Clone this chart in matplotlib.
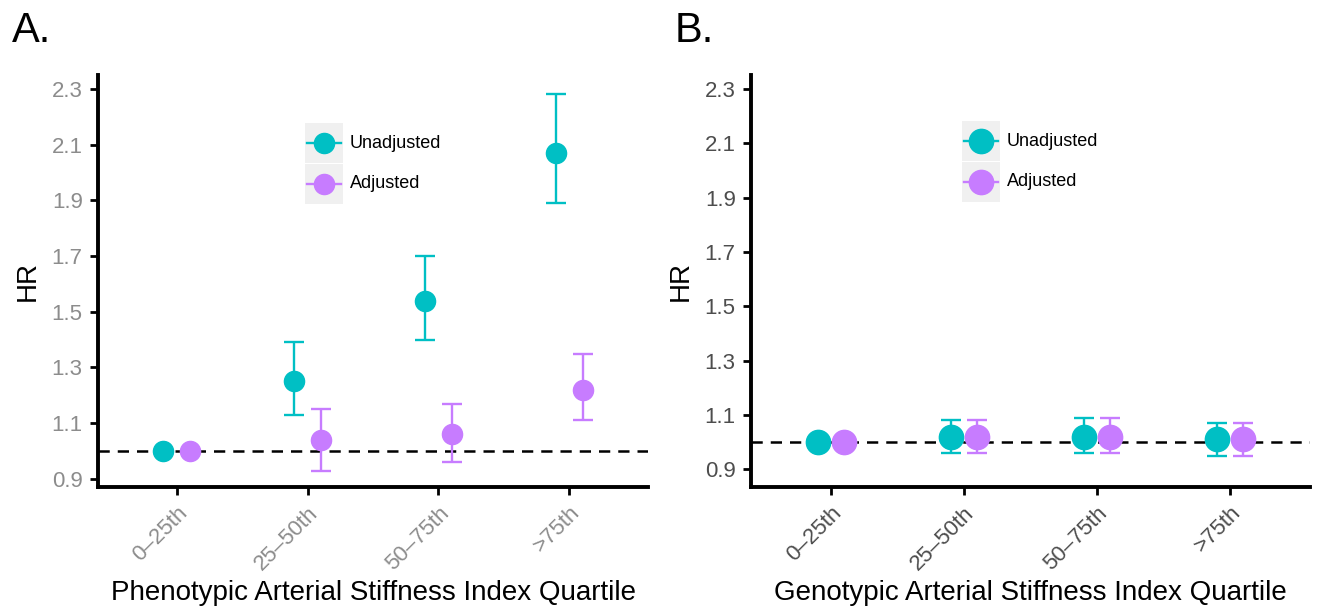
import matplotlib
matplotlib.use("Agg")
import matplotlib.pyplot as plt
from matplotlib.patches import Rectangle
from matplotlib.lines import Line2D
import numpy as np

plt.rcParams['font.family'] = ['Liberation Sans', 'DejaVu Sans']

quartiles = ["0–25th", "25–50th", "50–75th", ">75th"]
series_names = ["Unadjusted", "Adjusted"]

# Phenotypic arterial stiffness index: hazard ratios with 95% CI
pheno_unadj_hr = [1.00, 1.25, 1.54, 2.07]
pheno_unadj_lo = [1.00, 1.13, 1.40, 1.89]
pheno_unadj_hi = [1.00, 1.39, 1.70, 2.28]
pheno_adj_hr = [1.00, 1.04, 1.06, 1.22]
pheno_adj_lo = [1.00, 0.93, 0.96, 1.11]
pheno_adj_hi = [1.00, 1.15, 1.17, 1.35]

# Genotypic arterial stiffness index: hazard ratios with 95% CI
geno_unadj_hr = [1.00, 1.02, 1.02, 1.01]
geno_unadj_lo = [1.00, 0.96, 0.96, 0.95]
geno_unadj_hi = [1.00, 1.08, 1.09, 1.07]
geno_adj_hr = [1.00, 1.02, 1.02, 1.01]
geno_adj_lo = [1.00, 0.96, 0.96, 0.95]
geno_adj_hi = [1.00, 1.08, 1.09, 1.07]

yticks = [0.9, 1.1, 1.3, 1.5, 1.7, 1.9, 2.1, 2.3]
colors = ["#00BFC4", "#C77CFF"]

W, H = 1320, 612
fig = plt.figure(figsize=(W / 100, H / 100), dpi=100)


def px_box(l, r, t, b):
    return [l / W, (H - b) / H, (r - l) / W, (b - t) / H]


def draw_panel(ax, series, ylim, xlabel, tick_color, msize, letter, letter_x, leg_box):
    x = np.arange(1, len(quartiles) + 1)
    offsets = [-0.1, 0.1]
    ax.axhline(1.0, color="black", lw=1.8, ls=(0, (4.5, 3.2)), zorder=1)
    for (hr, lo, hi), col, off in zip(series, colors, offsets):
        hr = np.array(hr)
        lo = np.array(lo)
        hi = np.array(hi)
        ax.errorbar(x + off, hr, yerr=[hr - lo, hi - hr], fmt="none",
                    ecolor=col, elinewidth=1.7, capsize=7.5, capthick=1.7, zorder=2)
        ax.plot(x + off, hr, "o", color=col, ms=msize, mec=col, zorder=3)
    ax.set_xlim(0.4, 4.6)
    ax.set_ylim(*ylim)
    ax.set_yticks(yticks)
    ax.set_yticklabels([f"{v:.1f}" for v in yticks], fontsize=16, color=tick_color)
    ax.set_xticks(x)
    ax.set_xticklabels(quartiles, rotation=45, ha="right", va="top",
                       rotation_mode="anchor", fontsize=16, color=tick_color)
    for s in ["top", "right"]:
        ax.spines[s].set_visible(False)
    for s in ["left", "bottom"]:
        ax.spines[s].set_linewidth(2.8)
        ax.spines[s].set_capstyle("projecting")
    ax.tick_params(axis="both", width=2.0, length=6, color="black", pad=5)
    ax.set_xlabel(xlabel, fontsize=20, labelpad=4)
    ax.set_ylabel("HR", fontsize=20, labelpad=8)

    # legend drawn as key boxes with point-range glyphs
    bx, by, bw, bh = leg_box
    for i, (name, col) in enumerate(zip(series_names, colors)):
        top = by + i * (bh + 1)
        ax.add_patch(Rectangle(((bx - ax_left_px[ax]) / ax_w_px[ax],
                                (ax_bottom_px[ax] - top - bh) / ax_h_px[ax]),
                               bw / ax_w_px[ax], bh / ax_h_px[ax],
                               transform=ax.transAxes, facecolor="#F0F0F0",
                               edgecolor="none", clip_on=False, zorder=0))
        cy = (ax_bottom_px[ax] - top - bh / 2) / ax_h_px[ax]
        x0 = (bx + 2 - ax_left_px[ax]) / ax_w_px[ax]
        x1 = (bx + bw - 2 - ax_left_px[ax]) / ax_w_px[ax]
        ax.add_line(Line2D([x0, x1], [cy, cy], color=col, lw=1.7,
                           transform=ax.transAxes, clip_on=False, zorder=1))
        ax.add_line(Line2D([(x0 + x1) / 2], [cy], marker="o", ms=msize, color=col,
                           transform=ax.transAxes, clip_on=False, zorder=2))
        ax.text((bx + bw + 7 - ax_left_px[ax]) / ax_w_px[ax], cy, name,
                transform=ax.transAxes, fontsize=13, va="center", ha="left")

    fig.text(letter_x / W, 1 - 42 / H, letter, fontsize=30, ha="left", va="baseline")


ax_left_px, ax_w_px, ax_bottom_px, ax_h_px = {}, {}, {}, {}

axA = fig.add_axes(px_box(98, 648, 75, 487))
axB = fig.add_axes(px_box(751, 1310, 75, 487))
for a, (l, r) in zip([axA, axB], [(98, 648), (751, 1310)]):
    ax_left_px[a] = l
    ax_w_px[a] = r - l
    ax_bottom_px[a] = 487
    ax_h_px[a] = 412

draw_panel(axA,
           [(pheno_unadj_hr, pheno_unadj_lo, pheno_unadj_hi),
            (pheno_adj_hr, pheno_adj_lo, pheno_adj_hi)],
           (0.871, 2.350), "Phenotypic Arterial Stiffness Index Quartile",
           "#8C8C8C", 14.5, "A.", 12, (305, 123, 38, 40))

draw_panel(axB,
           [(geno_unadj_hr, geno_unadj_lo, geno_unadj_hi),
            (geno_adj_hr, geno_adj_lo, geno_adj_hi)],
           (0.834, 2.352), "Genotypic Arterial Stiffness Index Quartile",
           "#4D4D4D", 17.5, "B.", 675, (962, 121, 38, 40))

fig.savefig("out.png", dpi=100, facecolor="white")
